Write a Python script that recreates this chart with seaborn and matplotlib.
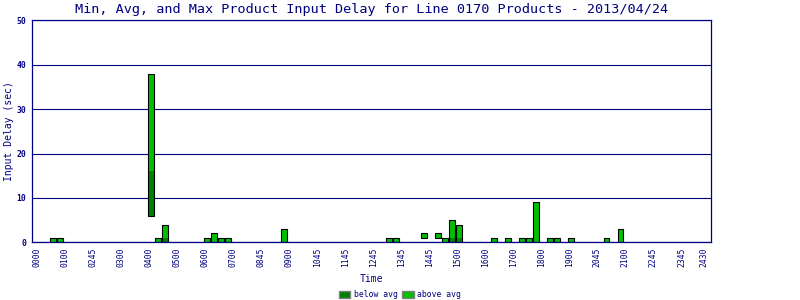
import numpy as np
import pandas as pd
import matplotlib
matplotlib.use("Agg")
import matplotlib.pyplot as plt
from matplotlib.patches import Patch
import seaborn as sns

# ---- data ----
times = ["00:45", "01:00", "04:15", "04:30", "04:45", "06:15", "06:30", "06:45",
         "07:00", "09:00", "12:45", "13:00", "14:00", "14:30", "14:45", "15:00",
         "15:15", "16:30", "17:00", "17:30", "17:45", "18:00", "18:30", "18:45",
         "19:15", "20:30", "21:00"]
min_delay = [0, 0, 6, 0, 0, 0, 0, 0, 0, 0, 0, 0, 1, 1, 0, 0, 0, 0, 0, 0, 0, 0, 0, 0, 0, 0, 0]
avg_delay = [0, 0, 16, 0, 1, 0, 0, 0, 0, 0, 0, 0, 1, 1, 0, 1, 1, 0, 0, 0, 0, 0, 0, 0, 0, 0, 0]
max_delay = [1, 1, 38, 1, 4, 1, 2, 1, 1, 3, 1, 1, 2, 2, 1, 5, 4, 1, 1, 1, 1, 9, 1, 1, 1, 1, 3]
tick_labels = ["0000", "0100", "0245", "0300", "0400", "0500", "0600", "0700", "0845",
               "0900", "1045", "1145", "1245", "1345", "1445", "1500", "1600", "1700",
               "1800", "1900", "2045", "2100", "2245", "2345", "2430"]
title = "Min, Avg, and Max Product Input Delay for Line 0170 Products - 2013/04/24"

NAVY = "#000080"
DARK = "#008000"
LIGHT = "#00C000"

sns.set_style("white")
plt.rcParams["font.family"] = ["DejaVu Sans Mono", "DejaVu Sans"]

slots = [int(t[:2]) * 4 + int(t[3:]) // 15 for t in times]
df = pd.DataFrame({"slot": slots, "min": min_delay, "avg": avg_delay, "max": max_delay})
df = df.sort_values("slot").reset_index(drop=True)
df["below"] = df["avg"] - df["min"]
df["above"] = df["max"] - df["avg"]
df["span"] = df["max"] - df["min"]

fig = plt.figure(figsize=(8, 3), dpi=100)
ax = fig.add_axes([0.04, 0.1923, 0.849, 0.74])

bw = 0.76
sns.barplot(data=df, x="slot", y="below", bottom=df["min"].to_numpy(), native_scale=True,
            color=DARK, saturation=1, width=bw, errorbar=None, linewidth=0, ax=ax)
sns.barplot(data=df, x="slot", y="above", bottom=df["avg"].to_numpy(), native_scale=True,
            color=LIGHT, saturation=1, width=bw, errorbar=None, linewidth=0, ax=ax)
sns.barplot(data=df, x="slot", y="span", bottom=df["min"].to_numpy(), native_scale=True,
            color=LIGHT, saturation=1, width=bw, errorbar=None, facecolor="none",
            edgecolor="black", linewidth=0.8, ax=ax)

ax.set_xlim(0, 97)
ax.set_ylim(0, 50)
ax.set_yticks([0, 10, 20, 30, 40, 50])
ax.set_yticklabels(["0", "10", "20", "30", "40", "50"], fontsize=5.8, color=NAVY,
                   fontweight="bold")
xt = [4 * j + 0.75 for j in range(len(tick_labels) - 1)] + [95.9]
ax.set_xticks(xt)
ax.set_xticklabels(tick_labels, rotation=90, fontsize=5.8, color=NAVY, ha="center", va="top")
ax.tick_params(axis="both", length=0)
ax.tick_params(axis="x", pad=3.5)
ax.tick_params(axis="y", pad=4.3)

ax.yaxis.grid(True, color=NAVY, linewidth=0.8)
ax.xaxis.grid(False)
ax.set_axisbelow(True)
for s in ax.spines.values():
    s.set_visible(True)
    s.set_color(NAVY)
    s.set_linewidth(0.9)

ax.set_xlabel("Time", fontsize=7, color=NAVY, labelpad=5)
ax.set_ylabel("Input Delay (sec)", fontsize=7, color=NAVY, labelpad=1.5)
ax.set_title(title, fontsize=9.7, color=NAVY, pad=5)

handles = [Patch(facecolor=DARK, edgecolor="#808080", linewidth=1.0),
           Patch(facecolor=LIGHT, edgecolor="#808080", linewidth=1.0)]
fig.legend(handles, ["below avg", "above avg"], loc="center", bbox_to_anchor=(0.5, 0.017),
           ncol=2, frameon=False, fontsize=5.8, handlelength=1.4, handleheight=1.0,
           handletextpad=0.4, columnspacing=0.6, labelcolor=NAVY, borderpad=0)

fig.savefig("out.png", dpi=100)
